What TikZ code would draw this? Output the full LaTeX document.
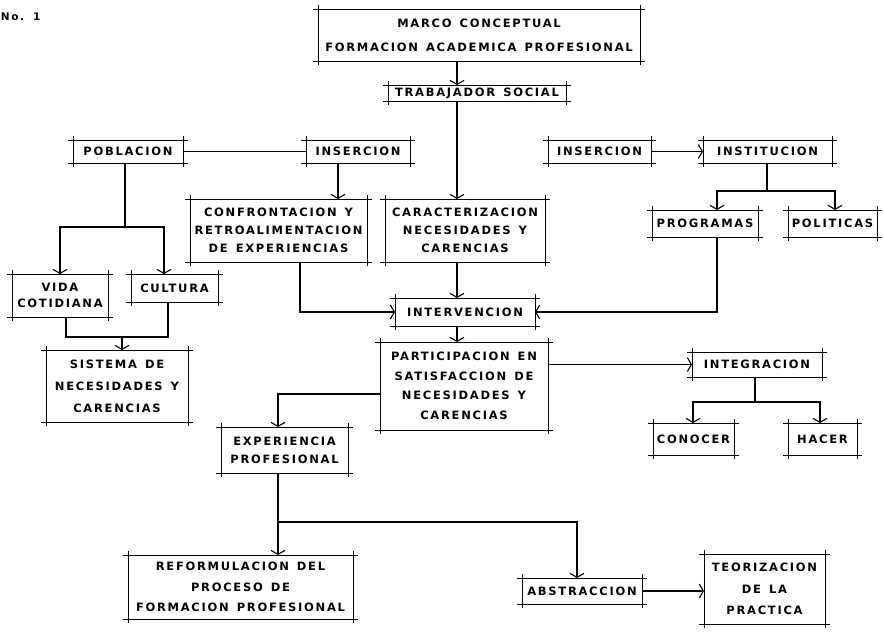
\documentclass[tikz,border=0pt]{standalone}
\usepackage{fontspec}
\setmainfont{DejaVu Sans}[BoldFont={DejaVu Sans Bold}, LetterSpace=15, WordSpace=1.4]
\usetikzlibrary{arrows.meta,calc}
\tikzset{
  box/.style={inner sep=0pt, outer sep=0pt, align=center, font=\fontsize{11.5}{#1}\selectfont\bfseries},
  box/.default=18,
  ln/.style={line width=1.1pt},
  arr/.style={line width=1.1pt, -{Straight Barb[width=14pt,length=4pt,line width=1.1pt]}},
  frame/.style={line width=1pt},
}
\newcommand\frm[1]{\draw[frame] ([xshift=-5pt]#1.north west) -- ([xshift=5pt]#1.north east) ([xshift=-5pt]#1.south west) -- ([xshift=5pt]#1.south east) ([yshift=4pt]#1.north west) -- ([yshift=-4pt]#1.south west) ([yshift=4pt]#1.north east) -- ([yshift=-4pt]#1.south east);}
\begin{document}
\begin{tikzpicture}[x=1pt,y=-1pt]
\useasboundingbox (0,0) rectangle (884,632);
\fill[white] (0,0) rectangle (884,632);

\node[box, anchor=west, font=\fontsize{10.5}{11}\selectfont\bfseries] (num) at (1,17) {No. 1};

\node[box=24, minimum width=322pt, minimum height=52pt] (marco) at (479,35) {MARCO CONCEPTUAL\\FORMACION ACADEMICA PROFESIONAL};
\node[box, minimum width=178pt, minimum height=16pt] (trab) at (477,93) {TRABAJADOR SOCIAL};
\node[box, minimum width=110pt, minimum height=23pt] (pob) at (128,151.5) {POBLACION};
\node[box, minimum width=104pt, minimum height=23pt] (ins1) at (358,151.5) {INSERCION};
\node[box, minimum width=103pt, minimum height=23pt] (ins2) at (599.5,151.5) {INSERCION};
\node[box, minimum width=129pt, minimum height=23pt] (inst) at (767.5,151.5) {INSTITUCION};
\node[box, minimum width=177pt, minimum height=63pt] (conf) at (278.5,230.5) {CONFRONTACION Y\\RETROALIMENTACION\\DE EXPERIENCIAS};
\node[box, minimum width=160pt, minimum height=63pt] (carac) at (465,230.5) {CARACTERIZACION\\NECESIDADES Y\\CARENCIAS};
\node[box, minimum width=106pt, minimum height=27pt] (prog) at (705,223.5) {PROGRAMAS};
\node[box, minimum width=89pt, minimum height=27pt] (pol) at (832.5,223.5) {POLITICAS};
\node[box=16, minimum width=96pt, minimum height=43pt] (vida) at (60,295.5) {VIDA\\COTIDIANA};
\node[box, minimum width=87pt, minimum height=28pt] (cult) at (174.5,288) {CULTURA};
\node[box=22, minimum width=142pt, minimum height=72pt] (sist) at (117,386) {SISTEMA DE\\NECESIDADES Y\\CARENCIAS};
\node[box, minimum width=140pt, minimum height=28pt] (interv) at (465,312) {INTERVENCION};
\node[box=19.5, minimum width=168pt, minimum height=88pt] (part) at (464,386) {PARTICIPACION EN\\SATISFACCION DE\\NECESIDADES Y\\CARENCIAS};
\node[box, minimum width=130pt, minimum height=25pt] (integ) at (757,364.5) {INTEGRACION};
\node[box, minimum width=81pt, minimum height=32pt] (conoc) at (693.5,439) {CONOCER};
\node[box, minimum width=69pt, minimum height=32pt] (hacer) at (822.5,439) {HACER};
\node[box, minimum width=127pt, minimum height=46pt] (exper) at (284.5,450) {EXPERIENCIA\\PROFESIONAL};
\node[box=20.5, minimum width=225pt, minimum height=64pt] (reform) at (240.5,587) {REFORMULACION DEL\\PROCESO DE\\FORMACION PROFESIONAL};
\node[box, minimum width=120pt, minimum height=26pt] (abstr) at (582,591) {ABSTRACCION};
\node[box=21.5, minimum width=121pt, minimum height=70pt] (teor) at (764.5,589) {TEORIZACION\\DE LA\\PRACTICA};

\foreach \n in {marco,trab,pob,ins1,ins2,inst,conf,carac,prog,pol,vida,cult,sist,interv,part,integ,conoc,hacer,exper,reform,abstr,teor} {\frm{\n}}

\coordinate (sp) at (457,0);
\draw[arr] (marco.south -| sp) -- (trab.north -| sp);
\draw[arr] (trab.south -| sp) -- (carac.north -| sp);
\draw[arr] (carac.south -| sp) -- (interv.north -| sp);
\draw[arr] (interv.south -| sp) -- (part.north -| sp);

\draw[ln] (pob.east) -- (ins1.west);
\coordinate (i1) at (338,0);
\draw[arr] (ins1.south -| i1) -- (conf.north -| i1);

\draw[arr] (ins2.east) -- (inst.west);
\coordinate (ib) at (767,191);
\coordinate (ibl) at (717,191);
\coordinate (ibr) at (835,191);
\draw[ln] (inst.south -| ib) -- (ib);
\draw[arr] (ib) -| (prog.north -| ibl);
\draw[arr] (ib) -| (pol.north -| ibr);
\draw[arr] (prog.south -| ibl) |- (interv.east);

\coordinate (cf) at (300,0);
\draw[arr] (conf.south -| cf) |- (interv.west);

\draw[arr] (part.east |- integ.west) -- (integ.west);
\coordinate (gb) at (755,402);
\coordinate (gbl) at (693,402);
\coordinate (gbr) at (820,402);
\draw[ln] (integ.south -| gb) -- (gb);
\draw[arr] (gb) -| (conoc.north -| gbl);
\draw[arr] (gb) -| (hacer.north -| gbr);

\coordinate (ex) at (278,394);
\draw[arr] (part.west |- ex) -| (exper.north -| ex);
\coordinate (eb) at (278,522);
\coordinate (ebr) at (577,522);
\draw[arr] (exper.south -| eb) -- (reform.north -| eb);
\draw[arr] (eb) -| (abstr.north -| ebr);
\draw[arr] (abstr.east) -- (abstr.east -| teor.west);

\coordinate (pb) at (125,227);
\coordinate (pbl) at (60,227);
\coordinate (pbr) at (164,227);
\draw[ln] (pob.south -| pb) -- (pb);
\draw[arr] (pb) -| (vida.north -| pbl);
\draw[arr] (pb) -| (cult.north -| pbr);
\coordinate (sb) at (122,337);
\coordinate (sbl) at (66,337);
\coordinate (sbr) at (168,337);
\draw[ln] (vida.south -| sbl) |- (sb) -| (cult.south -| sbr);
\draw[arr] (sb) -- (sist.north -| sb);
\end{tikzpicture}
\end{document}
